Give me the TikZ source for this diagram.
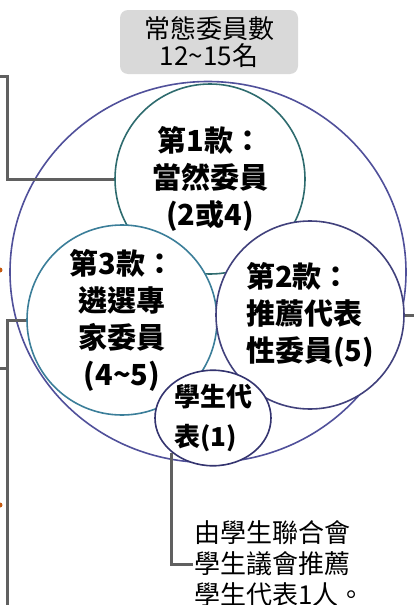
\documentclass[tikz,border=0pt]{standalone}
\usepackage{fontspec}
\setmainfont{Noto Sans CJK TC}
\usetikzlibrary{shapes.geometric}

\definecolor{outerblue}{HTML}{50509A}
\definecolor{tealdark}{HTML}{2E6B6E}
\definecolor{tealblue}{HTML}{3B7E99}
\definecolor{navy}{HTML}{41417C}
\definecolor{navydark}{HTML}{34346F}
\definecolor{linkgray}{HTML}{606060}
\definecolor{boxgray}{HTML}{D9D9D9}
\definecolor{dotorange}{HTML}{C55A11}

\begin{document}
\begin{tikzpicture}[x=1pt, y=1pt,
  ring/.style={circle, fill=white, line width=1.6pt, inner sep=0pt, align=center},
  ringtext/.style={font=\fontsize{29}{37}\selectfont\bfseries},
  link/.style={draw=linkgray, line width=3pt},
  plain/.style={font=\fontsize{26}{27}\selectfont}]
  \useasboundingbox (0,0) rectangle (414,-605);

  % Header box
  \node[fill=boxgray, rounded corners=8pt, minimum width=178pt, minimum height=64pt,
        align=center, plain] (head) at (209,-42) {常態委員數\\12\textasciitilde15名};

  % Outer field
  \node[ellipse, draw=outerblue, line width=1.6pt, minimum width=396pt,
        minimum height=381pt, inner sep=0pt] (outer) at (208,-272) {};

  % Member groups
  \node[ring, draw=tealdark, minimum size=190pt, ringtext] (c1) at (210,-179)
    {第1款：\\當然委員\\(2或4)};
  \node[ring, draw=tealblue, minimum size=190pt, ringtext] (c3) at (122,-320)
    {第3款：\\遴選專\\家委員\\(4\textasciitilde5)};
  \node[ring, draw=navy, minimum size=188pt, ringtext, align=left] (c2) at (310,-315)
    {第2款：\\推薦代表\\性委員(5)};
  \node[ellipse, fill=white, draw=navydark, line width=1.6pt, inner sep=0pt,
        minimum width=116pt, minimum height=92pt, align=left,
        font=\fontsize{26}{40}\selectfont\bfseries] (stu) at (213,-418)
    {學生代\\表(1)};

  % Note on the student seat
  \node[anchor=west, inner sep=1pt, align=left,
        font=\fontsize{26}{31}\selectfont] (note) at (193,-564)
    {由學生聯合會\\學生議會推薦\\學生代表1人。};

  % Connectors
  \coordinate (lt) at (0,-76);
  \coordinate (lmid) at (0,-368);
  \coordinate (lbot) at (7,-610);
  \coordinate (rt) at (416,-315);
  \draw[link] (lt) -- ++(7,0) |- (c1.west);
  \draw[link] (c3.west) -| (lbot);
  \draw[link] (lmid) -- (lmid -| lbot);
  \draw[link] (c2.east) -- (rt);
  \draw[link] (stu.220) |- (note.west);

  % Cut-off marks at the left edge
  \fill[dotorange] (0,-270) circle (2.5);
  \fill[dotorange] (0,-505) circle (2.5);
\end{tikzpicture}
\end{document}
